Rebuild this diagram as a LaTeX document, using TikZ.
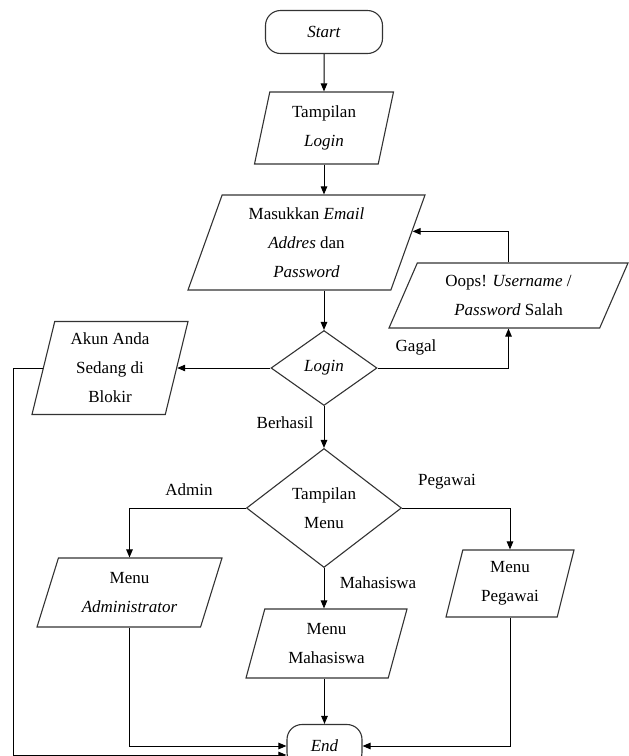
\documentclass[tikz,border=0pt]{standalone}
\usepackage{fontspec}
\setmainfont{Liberation Serif}
\usetikzlibrary{shapes.geometric, arrows.meta}
\tikzstyle{arrow} = [line width=1pt,->,>={Triangle[length=8pt,width=6.5pt]}]
\tikzstyle{term} = [rectangle, rounded corners=15pt, draw=black!80, line width=1.1pt, minimum width=117pt, minimum height=43pt, inner sep=0pt]
\tikzstyle{io} = [trapezium, trapezium stretches body, draw=black!80, line width=1.1pt, inner sep=0pt, align=center]
\tikzstyle{decision} = [diamond, draw=black!80, line width=1.1pt, inner sep=0pt, align=center]
\tikzstyle{lbl} = [inner sep=0pt]

\begin{document}
\begin{tikzpicture}[x=1pt, y=-1pt, font=\fontsize{17}{29}\selectfont]
\useasboundingbox (0,0) rectangle (629,756);

\node [term] (start) at (324,32) {\textit{Start}};
\node [io, trapezium left angle=71, trapezium right angle=109, minimum width=139pt, minimum height=72pt] (tlogin) at (324,128) {Tampilan\\\textit{Login}};
\node [io, trapezium left angle=64, trapezium right angle=116, minimum width=237pt, minimum height=95pt] (input) at (306.5,242.5) {Masukkan \textit{Email}\\\textit{Addres} dan\\\textit{Password}};
\node [io, trapezium left angle=55, trapezium right angle=125, minimum width=239pt, minimum height=65pt] (oops) at (508.5,295.5) {Oops! \textit{Username} /\\\textit{Password} Salah};

\node [decision, minimum width=106pt, minimum height=75pt] (login) at (324,368) {\textit{Login}};
\node [io, trapezium left angle=72, trapezium right angle=108, minimum width=156pt, minimum height=93pt] (akun) at (110,368) {Akun Anda\\Sedang di\\Blokir};

\node [decision, minimum width=155pt, minimum height=119pt] (tmenu) at (324,508) {Tampilan\\Menu};
\node [io, trapezium left angle=62, trapezium right angle=118, minimum width=185pt, minimum height=69pt] (madmin) at (129.5,592.5) {Menu\\\textit{Administrator}};
\node [io, trapezium left angle=65, trapezium right angle=115, minimum width=161pt, minimum height=69pt] (mmhs) at (326.5,643.5) {Menu\\Mahasiswa};
\node [io, trapezium left angle=69, trapezium right angle=111, minimum width=128pt, minimum height=67pt] (mpeg) at (510,583.5) {Menu\\Pegawai};

\node [term, minimum width=75pt] (finish) at (324.5,746) {\textit{End}};

\node [lbl] (gagal) at (416,347) {Gagal};
\node [lbl] (berhasil) at (285,423) {Berhasil};
\node [lbl] (admin) at (189,490) {Admin};
\node [lbl] (pegawai) at (447,482) {Pegawai};
\node [lbl] (mahasiswa) at (378,583) {Mahasiswa};

\coordinate (kiri) at (13,755);

\draw [arrow] (start.south) to (tlogin.north);
\draw [arrow] (tlogin.south) to (tlogin.south |- input.north);
\draw [arrow] (input.south -| login.north) to (login.north);


\draw [arrow] (login.west) to (login.west -| akun.east);
\draw [arrow] (login.east) -| (oops.south);
\draw [arrow] (oops.north) |- (input.6);


\draw [arrow] (login.south) to (tmenu.north);
\draw [arrow] (tmenu.west) -| (madmin.north);
\draw [arrow] (tmenu.east) -| (mpeg.north);
\draw [arrow] (tmenu.south) to (tmenu.south |- mmhs.north);


\draw [arrow] (mmhs.south -| finish.north) to (finish.north);
\draw [arrow] (madmin.south) |- (finish.west);
\draw [arrow] (mpeg.south) |- (finish.east);
\draw [arrow] (akun.west) -| (kiri) -- (kiri -| finish.west);

\end{tikzpicture}
\end{document}
